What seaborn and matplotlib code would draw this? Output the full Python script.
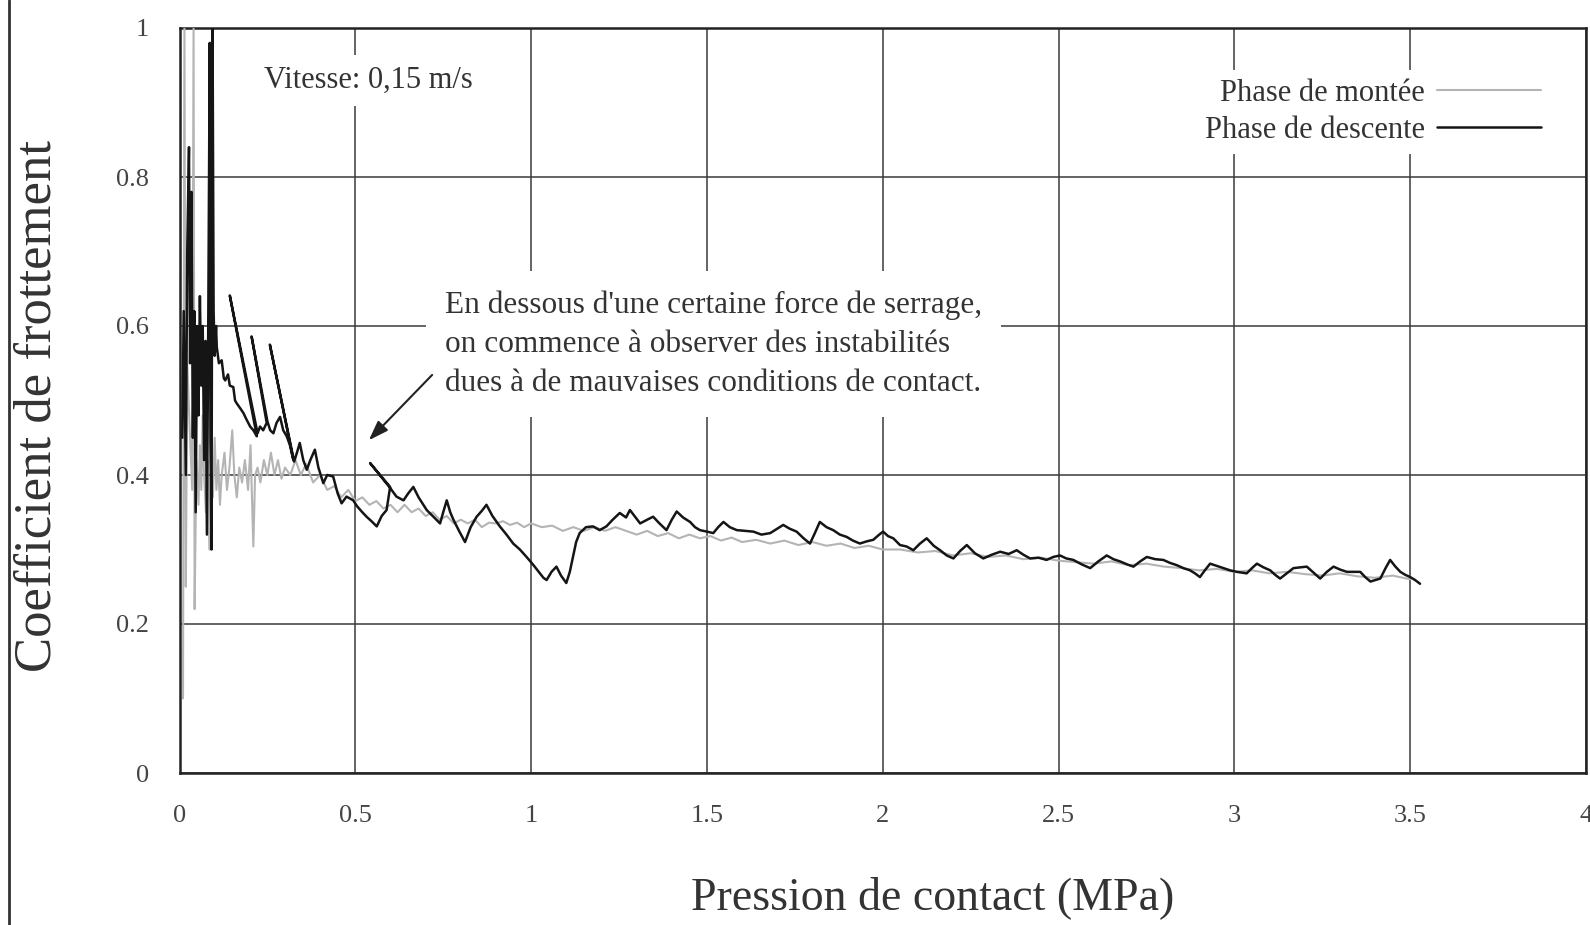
import numpy as np
import pandas as pd
import matplotlib
matplotlib.use("Agg")
import matplotlib.pyplot as plt
from matplotlib.lines import Line2D
import seaborn as sns

# ---------------- data ----------------
# Phase de descente (black), listed in drawing order
desc_p = [0.008, 0.012, 0.018, 0.022, 0.027, 0.030, 0.034, 0.038, 0.042, 0.046,
          0.050, 0.054, 0.058, 0.062, 0.066, 0.070, 0.074, 0.078, 0.082, 0.086,
          0.088, 0.091, 0.094, 0.097, 0.100, 0.104, 0.106, 0.112, 0.120, 0.126,
          0.130, 0.138, 0.143, 0.153, 0.158, 0.163, 0.172, 0.182, 0.190, 0.201,
          0.210, 0.220, 0.143, 0.222, 0.229, 0.238, 0.248, 0.205, 0.250, 0.258,
          0.267, 0.276, 0.286, 0.295, 0.305, 0.314, 0.324, 0.257, 0.326, 0.334,
          0.342, 0.352, 0.362, 0.372, 0.385, 0.395, 0.409, 0.420, 0.437, 0.450,
          0.461, 0.475, 0.494, 0.505, 0.520, 0.532, 0.546, 0.561, 0.575, 0.589,
          0.599, 0.542, 0.600, 0.617, 0.637, 0.650, 0.665, 0.680, 0.703, 0.720,
          0.741, 0.750, 0.760, 0.770, 0.779, 0.795, 0.812, 0.828, 0.845, 0.860,
          0.873, 0.890, 0.911, 0.930, 0.949, 0.968, 0.987, 1.005, 1.025, 1.035,
          1.044, 1.058, 1.072, 1.085, 1.100, 1.110, 1.119, 1.128, 1.138, 1.156,
          1.176, 1.195, 1.214, 1.232, 1.252, 1.270, 1.281, 1.310, 1.330, 1.347,
          1.365, 1.385, 1.400, 1.414, 1.432, 1.452, 1.466, 1.480, 1.500, 1.518,
          1.532, 1.547, 1.565, 1.585, 1.608, 1.632, 1.655, 1.680, 1.700, 1.717,
          1.735, 1.755, 1.775, 1.793, 1.805, 1.821, 1.840, 1.859, 1.878, 1.897,
          1.915, 1.935, 1.955, 1.973, 1.990, 2.001, 2.015, 2.030, 2.049, 2.068,
          2.087, 2.106, 2.125, 2.145, 2.163, 2.182, 2.201, 2.220, 2.239, 2.262,
          2.286, 2.310, 2.334, 2.358, 2.381, 2.400, 2.419, 2.443, 2.466, 2.485,
          2.504, 2.522, 2.542, 2.566, 2.590, 2.613, 2.637, 2.656, 2.675, 2.695,
          2.713, 2.732, 2.751, 2.775, 2.798, 2.817, 2.836, 2.855, 2.874, 2.888,
          2.902, 2.916, 2.931, 2.950, 2.969, 2.988, 3.007, 3.021, 3.035, 3.050,
          3.064, 3.083, 3.102, 3.116, 3.130, 3.149, 3.168, 3.187, 3.206, 3.225,
          3.244, 3.263, 3.282, 3.301, 3.320, 3.340, 3.358, 3.372, 3.387, 3.401,
          3.415, 3.430, 3.443, 3.458, 3.472, 3.486, 3.500, 3.514, 3.528]
desc_mu = [0.45, 0.62, 0.40, 0.70, 0.84, 0.55, 0.78, 0.45, 0.62, 0.35,
           0.60, 0.48, 0.64, 0.52, 0.60, 0.42, 0.58, 0.32, 0.62, 0.98,
           0.45, 0.30, 1.00, 0.62, 0.56, 0.60, 0.572, 0.55, 0.554, 0.53,
           0.527, 0.535, 0.52, 0.518, 0.50, 0.496, 0.49, 0.483, 0.475, 0.465,
           0.46, 0.452, 0.641, 0.456, 0.465, 0.46, 0.470, 0.586, 0.472, 0.46,
           0.456, 0.47, 0.478, 0.46, 0.452, 0.44, 0.420, 0.575, 0.418, 0.43,
           0.443, 0.42, 0.407, 0.42, 0.434, 0.41, 0.389, 0.40, 0.398, 0.375,
           0.362, 0.371, 0.366, 0.358, 0.35, 0.344, 0.338, 0.331, 0.345, 0.353,
           0.384, 0.416, 0.382, 0.371, 0.366, 0.375, 0.384, 0.37, 0.353, 0.345,
           0.335, 0.35, 0.366, 0.35, 0.340, 0.325, 0.310, 0.33, 0.344, 0.352,
           0.360, 0.345, 0.331, 0.32, 0.308, 0.30, 0.290, 0.28, 0.268, 0.262,
           0.259, 0.27, 0.277, 0.265, 0.255, 0.27, 0.290, 0.31, 0.322, 0.33,
           0.331, 0.326, 0.331, 0.34, 0.349, 0.343, 0.353, 0.335, 0.34, 0.344,
           0.335, 0.326, 0.34, 0.351, 0.343, 0.337, 0.33, 0.326, 0.324, 0.322,
           0.33, 0.337, 0.33, 0.326, 0.325, 0.324, 0.32, 0.322, 0.328, 0.333,
           0.328, 0.324, 0.315, 0.308, 0.32, 0.337, 0.33, 0.326, 0.32, 0.317,
           0.312, 0.308, 0.311, 0.313, 0.32, 0.324, 0.318, 0.315, 0.306, 0.304,
           0.299, 0.308, 0.315, 0.305, 0.299, 0.292, 0.288, 0.298, 0.306, 0.295,
           0.288, 0.293, 0.297, 0.294, 0.299, 0.293, 0.288, 0.289, 0.286, 0.29,
           0.292, 0.288, 0.286, 0.28, 0.275, 0.284, 0.292, 0.287, 0.284, 0.28,
           0.277, 0.284, 0.290, 0.287, 0.286, 0.282, 0.279, 0.275, 0.272, 0.268,
           0.263, 0.272, 0.281, 0.278, 0.275, 0.272, 0.270, 0.269, 0.268, 0.275,
           0.281, 0.276, 0.272, 0.266, 0.261, 0.268, 0.275, 0.276, 0.277, 0.269,
           0.261, 0.27, 0.277, 0.273, 0.270, 0.27, 0.270, 0.263, 0.257, 0.259,
           0.261, 0.275, 0.286, 0.277, 0.270, 0.266, 0.263, 0.259, 0.254]

# Phase de montee (grey)
mont_p = [0.010, 0.014, 0.018, 0.022, 0.030, 0.036, 0.040, 0.043, 0.048, 0.054,
          0.058, 0.062, 0.066, 0.070, 0.075, 0.080, 0.085, 0.090, 0.095, 0.100,
          0.105, 0.110, 0.115, 0.120, 0.128, 0.135, 0.142, 0.150, 0.156, 0.163,
          0.170, 0.178, 0.186, 0.195, 0.202, 0.210, 0.215, 0.222, 0.230, 0.240,
          0.250, 0.260, 0.270, 0.280, 0.290, 0.300, 0.315, 0.330, 0.345, 0.360,
          0.380, 0.400, 0.420, 0.440, 0.460, 0.480, 0.500, 0.520, 0.540, 0.560,
          0.580, 0.600, 0.620, 0.640, 0.660, 0.680, 0.700, 0.720, 0.740, 0.760,
          0.780, 0.800, 0.820, 0.840, 0.860, 0.880, 0.900, 0.920, 0.940, 0.960,
          0.980, 1.000, 1.030, 1.060, 1.090, 1.120, 1.150, 1.180, 1.210, 1.240,
          1.270, 1.300, 1.330, 1.360, 1.390, 1.420, 1.450, 1.480, 1.510, 1.540,
          1.570, 1.600, 1.640, 1.680, 1.720, 1.760, 1.800, 1.840, 1.880, 1.920,
          1.960, 2.000, 2.050, 2.100, 2.150, 2.200, 2.250, 2.300, 2.350, 2.400,
          2.450, 2.500, 2.550, 2.600, 2.650, 2.700, 2.750, 2.800, 2.850, 2.900,
          2.950, 3.000, 3.050, 3.100, 3.150, 3.200, 3.250, 3.300, 3.350, 3.400,
          3.450, 3.500]
mont_mu = [0.10, 1.00, 0.25, 0.55, 0.45, 0.38, 1.00, 0.22, 0.42, 0.36,
           0.44, 0.38, 0.48, 0.40, 0.35, 0.42, 0.30, 0.41, 0.37, 0.45,
           0.38, 0.42, 0.36, 0.40, 0.43, 0.38, 0.41, 0.46, 0.40, 0.37,
           0.41, 0.39, 0.42, 0.38, 0.44, 0.304, 0.40, 0.41, 0.39, 0.42,
           0.40, 0.43, 0.40, 0.42, 0.395, 0.41, 0.40, 0.42, 0.40, 0.415,
           0.39, 0.40, 0.38, 0.385, 0.37, 0.38, 0.365, 0.37, 0.36, 0.365,
           0.355, 0.36, 0.35, 0.36, 0.35, 0.355, 0.345, 0.35, 0.34, 0.345,
           0.335, 0.34, 0.335, 0.34, 0.33, 0.336, 0.335, 0.338, 0.333, 0.336,
           0.33, 0.335, 0.33, 0.332, 0.325, 0.33, 0.325, 0.33, 0.325, 0.33,
           0.325, 0.32, 0.325, 0.318, 0.322, 0.315, 0.32, 0.315, 0.318, 0.312,
           0.316, 0.31, 0.313, 0.308, 0.312, 0.306, 0.31, 0.305, 0.308, 0.302,
           0.305, 0.30, 0.30, 0.296, 0.298, 0.292, 0.295, 0.29, 0.292, 0.287,
           0.289, 0.285, 0.283, 0.281, 0.284, 0.279, 0.281, 0.277, 0.275, 0.272,
           0.274, 0.27, 0.272, 0.268, 0.27, 0.267, 0.265, 0.268, 0.264, 0.262,
           0.265, 0.26]

x_ticks = [0, 0.5, 1, 1.5, 2, 2.5, 3, 3.5, 4]
x_tick_labels = ["0", "0.5", "1", "1.5", "2", "2.5", "3", "3.5", "4"]
y_ticks = [0, 0.2, 0.4, 0.6, 0.8, 1.0]
y_tick_labels = ["0", "0.2", "0.4", "0.6", "0.8", "1"]
series_labels = ["Phase de montée", "Phase de descente"]

# ---------------- style ----------------
sns.set_theme(style="white")
plt.rcParams["font.family"] = ["Liberation Serif", "DejaVu Serif"]

W, H = 1590, 925
fig = plt.figure(figsize=(W / 100, H / 100), dpi=100)
fig.patch.set_facecolor("white")
x0px, x1px, y0px, y1px = 179.5, 1586.0, 773.0, 28.0
ax = fig.add_axes([x0px / W, 1 - y0px / H, (x1px - x0px) / W, (y0px - y1px) / H])

grey = "#b4b4b4"
black = "#151515"

df_m = pd.DataFrame({"p": mont_p, "mu": mont_mu})
df_d = pd.DataFrame({"p": desc_p, "mu": desc_mu})
sns.lineplot(data=df_m, x="p", y="mu", sort=False, estimator=None, color=grey,
             lw=1.5, ax=ax, legend=False, zorder=3)
sns.lineplot(data=df_d, x="p", y="mu", sort=False, estimator=None, color=black,
             lw=1.8, ax=ax, legend=False, zorder=4)

ax.set_xlim(0, 4)
ax.set_ylim(0, 1)
ax.set_xticks(x_ticks)
ax.set_xticklabels(x_tick_labels)
ax.set_yticks(y_ticks)
ax.set_yticklabels(y_tick_labels)
ax.tick_params(axis="both", length=0, labelsize=19, colors="#444444")
ax.tick_params(axis="x", pad=23)
ax.tick_params(axis="y", pad=22)
ax.set_xlabel("")
ax.set_ylabel("")
ax.grid(True, color="#3a3a3a", lw=1.1)
ax.set_axisbelow(True)
for s in ax.spines.values():
    s.set_color("#222222")
    s.set_linewidth(1.8)

# legend (text then sample line), white box hides the grid behind it
handles = [Line2D([], [], color=grey, lw=1.5), Line2D([], [], color=black, lw=1.8)]
leg = ax.legend(handles, series_labels, loc="upper right",
                bbox_to_anchor=((1550 - x0px) / (x1px - x0px), (y0px - 70) / (y0px - y1px)),
                frameon=True, markerfirst=False, fontsize=22, handlelength=3.4,
                handletextpad=0.4, labelspacing=0.25, borderpad=0.3, borderaxespad=0,
                labelcolor="#333333", fancybox=False)
leg.get_frame().set_facecolor("white")
leg.get_frame().set_edgecolor("none")
leg.get_frame().set_alpha(1.0)
leg.set_zorder(6)

# texts
box = dict(facecolor="white", edgecolor="none", pad=8)
ax.text(0.24, 0.93, "Vitesse: 0,15 m/s", fontsize=22, color="#333333",
        ha="left", va="center", bbox=box, zorder=6)
ax.text(0.755, 0.648,
        "En dessous d'une certaine force de serrage,\n"
        "on commence à observer des instabilités\n"
        "dues à de mauvaises conditions de contact.",
        fontsize=22.5, color="#333333", ha="left", va="top", linespacing=1.45,
        bbox=dict(facecolor="white", edgecolor="none", pad=14), zorder=6)
ax.annotate("", xy=(0.533, 0.444), xytext=(0.724, 0.537),
            arrowprops=dict(arrowstyle="-|>,head_length=1.0,head_width=0.35",
                            color="#222222", lw=1.5), zorder=7)

fig.text(933 / W, 1 - 898 / H, "Pression de contact (MPa)", fontsize=33,
         color="#333333", ha="center", va="center")
fig.text(37.5 / W, 1 - 406 / H, "Coefficient de frottement", fontsize=38,
         color="#333333", ha="center", va="center", rotation=90)

# page border at the far left of the scan
fig.add_artist(Line2D([9 / W, 9 / W], [0, 1], transform=fig.transFigure,
                      color="#333333", lw=2))

fig.savefig("out.png", dpi=100, facecolor="white")
